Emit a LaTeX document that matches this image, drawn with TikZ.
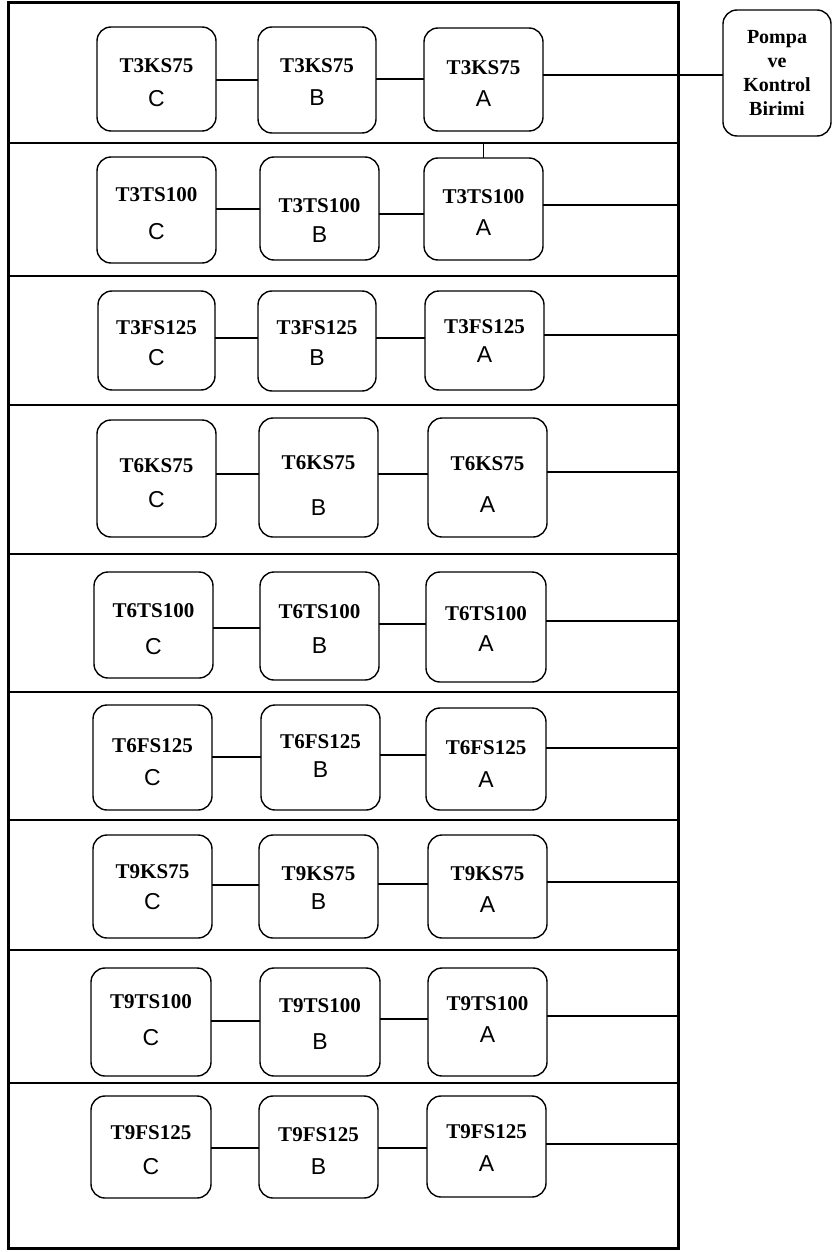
\documentclass[tikz,border=0pt]{standalone}
\usepackage{fontspec}
\setmainfont{Liberation Serif}
\newfontfamily\lsans{Liberation Sans}
\begin{document}
\begin{tikzpicture}[x=1pt,y=-1pt,
  blkst/.style={draw, line width=1.4pt, rounded corners=14pt, inner sep=0pt, outer sep=0pt},
  ttl/.style={inner sep=0pt, font=\fontsize{21}{24}\selectfont\bfseries},
  ltr/.style={inner sep=0pt, font=\fontsize{23}{26}\selectfont\lsans},
  conn/.style={line width=1.4pt},
  sep/.style={line width=1.5pt},
  framest/.style={draw, line width=3pt, inner sep=0pt, outer sep=0pt}]
\useasboundingbox (0,0) rectangle (833,1252);
\newcommand\blk[9]{%
  \node[blkst, minimum width={#4-#2}, minimum height={#5-#3}] (#1) at ({(#2+#4)/2},{(#3+#5)/2}) {};
  \node[ttl] (#1t) at ({(#2+#4)/2},#7) {#6};
  \node[ltr] (#1l) at ({(#2+#4)/2},#9) {#8};}
% frame
\node[framest, minimum width=670, minimum height=1245] (frame) at (343,1250/2+0.5) {};
% separators
\foreach \yy in {143,276,405,554,692,820,950,1083}
  \draw[sep] (frame.west |- 0,\yy) -- (frame.east |- 0,\yy);
% pump
\node[blkst, minimum width=108, minimum height=126, align=center,
  font=\fontsize{20}{23.7}\selectfont\bfseries] (pompa) at (777,73) {Pompa\\ve\\Kontrol\\Birimi};
% rows
\blk{c1}{97}{27}{216}{131}{T3KS75}{66}{C}{99}
\blk{b1}{258}{27}{376}{133}{T3KS75}{66}{B}{98}
\blk{a1}{424}{28}{543}{131}{T3KS75}{68}{A}{99}
\blk{c2}{97}{157}{216}{263}{T3TS100}{195}{C}{232}
\blk{b2}{260}{157}{379}{260}{T3TS100}{206}{B}{235}
\blk{a2}{424}{158}{543}{260}{T3TS100}{197}{A}{228}
\blk{c3}{98}{291}{215}{390}{T3FS125}{328}{C}{358}
\blk{b3}{258}{291}{376}{391}{T3FS125}{328}{B}{358}
\blk{a3}{425}{291}{544}{390}{T3FS125}{327}{A}{355}
\blk{c4}{97}{420}{216}{537}{T6KS75}{466}{C}{500}
\blk{b4}{259}{418}{378}{537}{T6KS75}{463}{B}{508}
\blk{a4}{428}{418}{547}{537}{T6KS75}{464}{A}{505}
\blk{c5}{94}{572}{213}{678}{T6TS100}{611}{C}{647}
\blk{b5}{260}{572}{379}{680}{T6TS100}{612}{B}{646}
\blk{a5}{426}{572}{546}{682}{T6TS100}{614}{A}{644}
\blk{c6}{93}{705}{212}{810}{T6FS125}{746}{C}{778}
\blk{b6}{261}{705}{380}{810}{T6FS125}{742}{B}{770}
\blk{a6}{426}{708}{546}{810}{T6FS125}{748}{A}{780}
\blk{c7}{93}{835}{212}{938}{T9KS75}{872}{C}{902}
\blk{b7}{259}{835}{378}{938}{T9KS75}{874}{B}{902}
\blk{a7}{428}{835}{547}{938}{T9KS75}{874}{A}{905}
\blk{c8}{91}{968}{211}{1076}{T9TS100}{1002}{C}{1038}
\blk{b8}{260}{968}{380}{1076}{T9TS100}{1006}{B}{1042}
\blk{a8}{428}{968}{547}{1076}{T9TS100}{1004}{A}{1035}
\blk{c9}{91}{1096}{211}{1198}{T9FS125}{1133}{C}{1167}
\blk{b9}{259}{1096}{378}{1198}{T9FS125}{1135}{B}{1167}
\blk{a9}{427}{1096}{546}{1197}{T9FS125}{1132}{A}{1164}
% connectors
\draw[conn] (c1.east |- 0,80) -- (b1.west |- 0,80);
\draw[conn] (b1.east |- 0,79) -- (a1.west |- 0,79);
\draw[conn] (a1.east |- 0,75) -- (pompa.west |- 0,75);
\draw[conn] (a2.north) -- (a2.north |- 0,143);
\draw[conn] (c2.east |- 0,209) -- (b2.west |- 0,209);
\draw[conn] (b2.east |- 0,214) -- (a2.west |- 0,214);
\draw[conn] (a2.east |- 0,205) -- (frame.east |- 0,205);
\draw[conn] (c3.east |- 0,338) -- (b3.west |- 0,338);
\draw[conn] (b3.east |- 0,338) -- (a3.west |- 0,338);
\draw[conn] (a3.east |- 0,335) -- (frame.east |- 0,335);
\draw[conn] (c4.east |- 0,474) -- (b4.west |- 0,474);
\draw[conn] (b4.east |- 0,474) -- (a4.west |- 0,474);
\draw[conn] (a4.east |- 0,472) -- (frame.east |- 0,472);
\draw[conn] (c5.east |- 0,628) -- (b5.west |- 0,628);
\draw[conn] (b5.east |- 0,624) -- (a5.west |- 0,624);
\draw[conn] (a5.east |- 0,621) -- (frame.east |- 0,621);
\draw[conn] (c6.east |- 0,757) -- (b6.west |- 0,757);
\draw[conn] (b6.east |- 0,755) -- (a6.west |- 0,755);
\draw[conn] (a6.east |- 0,748) -- (frame.east |- 0,748);
\draw[conn] (c7.east |- 0,885) -- (b7.west |- 0,885);
\draw[conn] (b7.east |- 0,884) -- (a7.west |- 0,884);
\draw[conn] (a7.east |- 0,882) -- (frame.east |- 0,882);
\draw[conn] (c8.east |- 0,1021) -- (b8.west |- 0,1021);
\draw[conn] (b8.east |- 0,1019) -- (a8.west |- 0,1019);
\draw[conn] (a8.east |- 0,1016) -- (frame.east |- 0,1016);
\draw[conn] (c9.east |- 0,1148) -- (b9.west |- 0,1148);
\draw[conn] (b9.east |- 0,1148) -- (a9.west |- 0,1148);
\draw[conn] (a9.east |- 0,1144) -- (frame.east |- 0,1144);
\end{tikzpicture}
\end{document}
